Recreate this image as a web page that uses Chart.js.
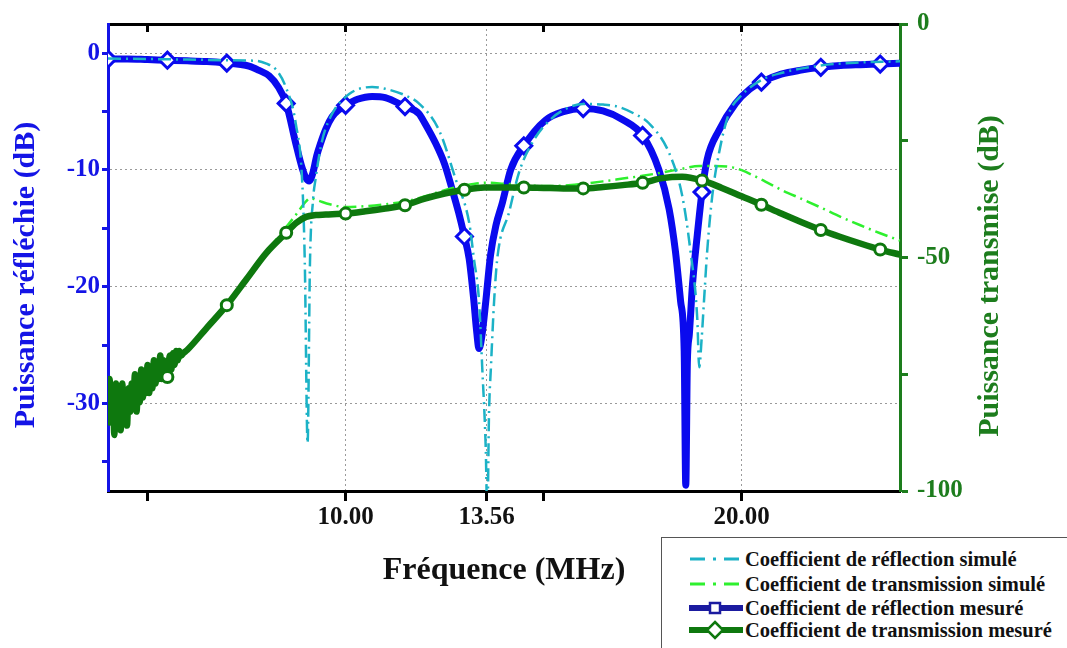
<!DOCTYPE html>
<html>
<head>
<meta charset="utf-8">
<title>Puissance réfléchie et transmise</title>
<script src="https://cdn.jsdelivr.net/npm/chart.js@4.4.1/dist/chart.umd.min.js"></script>
<style>
    html, body { margin: 0; padding: 0; background: #fff; overflow: hidden; }
    #wrap { position: relative; width: 1067px; height: 648px; }
    #legend {
        position: absolute; left: 661px; top: 537px; width: 440px; height: 125px;
        border: 1.5px solid #555; background: #fff;
        font: bold 20.5px "Liberation Serif", "Times New Roman", serif; color: #111;
    }
    #legend .row { position: absolute; left: 27px; height: 24px; display: flex; align-items: center; white-space: nowrap; }
    #legend svg { display: block; margin-right: 2px; }
</style>
</head>
<body>
<div id="wrap">
    <canvas id="chart" width="1067" height="648"></canvas>
    <div id="legend"></div>
</div>
<script>
/**
 * Puissance réfléchie / transmise vs fréquence
 */

// Axis ranges and ticks
const xMin = 4, xMax = 24;
const xTicks = [5, 10, 13.56, 15, 20];
const xLabeled = [10, 13.56, 20];
const topTicks = [5, 10, 15, 20];
const leftMin = -37.5, leftMax = 2.5;
const leftTicks = [0, -5, -10, -15, -20, -25, -30, -35];
const leftLabeled = [0, -10, -20, -30];
const rightMin = -100, rightMax = 0;
const rightTicks = [0, -25, -50, -75, -100];
const rightLabeled = [0, -50, -100];

// Marker positions (MHz)
const reflMarkers = [4, 5.5, 7, 8.5, 10, 11.5, 13, 14.5, 16, 17.5, 19, 20.5, 22, 23.5];
const transMarkers = [5.5, 7, 8.5, 10, 11.5, 13, 14.5, 16, 17.5, 19, 20.5, 22, 23.5];

// Coefficient de réflection simulé (dB, left axis)
const rsFreq = [4.0, 5.0, 6.0, 7.0, 7.73, 8.0, 8.23, 8.49, 8.74, 8.91, 8.97, 9.04, 9.1, 9.18, 9.24, 9.4, 9.62, 10.09, 10.67, 11.0,
    11.5, 11.85, 12.36, 12.78, 13.12, 13.24, 13.37, 13.45, 13.54, 13.58, 13.62, 13.67, 13.75, 13.83, 14.13, 14.38, 14.76, 15.2, 15.6, 16.0,
    16.5, 16.9, 17.3, 17.66, 18.17, 18.5, 18.71, 18.88, 18.93, 18.99, 19.05, 19.13, 19.26, 19.43, 19.68, 20.0, 20.5, 21.0, 22.0, 23.0, 24.0];
const rsDb = [-0.45, -0.5, -0.55, -0.6, -0.65, -0.9, -1.35, -2.9, -6.0, -11.4, -18.0, -33.4, -18.0, -12.5, -10.8, -7.6, -5.45, -3.5, -2.9, -3.05,
    -3.6, -4.3, -6.6, -10.8, -14.5, -17.6, -21.25, -26.9, -34.0, -40.0, -31.1, -26.9, -21.25, -17.6, -13.6, -10.2, -7.4, -5.6, -4.7, -4.35,
    -4.4, -4.6, -5.2, -6.0, -8.55, -12.2, -17.0, -22.7, -26.9, -24.5, -21.25, -17.0, -12.2, -8.55, -5.16, -3.6, -2.3, -1.7, -1.05, -0.8, -0.7];

// Coefficient de transmission simulé (dB, right axis)
const tsFreq = [4.0, 4.5, 5.0, 5.5, 6.0, 6.5, 7.0, 7.5, 8.0, 8.5, 8.75, 9.0, 9.1, 9.3, 9.6, 10.0, 10.5, 11.0, 11.5, 12.0,
    12.5, 13.0, 13.56, 14.0, 14.5, 15.0, 15.5, 16.0, 16.5, 17.0, 17.5, 18.0, 18.5, 18.93, 19.3, 19.77, 20.0, 20.5, 21.0, 21.5,
    22.0, 22.5, 23.0, 23.5, 24.0];
const tsDb = [-80, -79, -77, -74.5, -70, -65, -60, -54.5, -48.8, -43.5, -40.8, -38.0, -37.3, -37.8, -38.6, -39.2, -39.0, -38.6, -38.0, -36.9,
    -35.6, -34.6, -34.0, -34.2, -34.5, -34.7, -34.6, -34.2, -33.7, -33.1, -32.5, -31.8, -31.0, -30.4, -30.4, -30.7, -31.3, -33.3, -35.5, -37.4,
    -39.3, -41.3, -43.1, -44.8, -46.4];

// Coefficient de réflection mesuré (dB, left axis)
const rmFreq = [4.0, 4.5, 5.0, 5.5, 6.0, 6.5, 7.0, 7.3, 7.56, 7.8, 8.07, 8.3, 8.5, 8.74, 8.9, 9.0, 9.08, 9.17, 9.27, 9.37,
    9.5, 9.66, 9.83, 10.0, 10.3, 10.67, 11.0, 11.5, 11.85, 12.0, 12.27, 12.5, 12.69, 12.85, 13.0, 13.12, 13.24, 13.3, 13.37, 13.45,
    13.54, 13.66, 13.8, 13.96, 14.17, 14.5, 15.05, 15.5, 16.0, 16.5, 17.0, 17.5, 17.91, 18.17, 18.33, 18.46, 18.55, 18.59, 18.63, 18.68,
    18.76, 18.88, 19.0, 19.13, 19.43, 19.85, 20.2, 20.5, 21.0, 21.5, 22.0, 22.5, 23.0, 23.5, 24.0];
const rmDb = [-0.5, -0.5, -0.55, -0.6, -0.65, -0.72, -0.85, -0.95, -1.1, -1.45, -1.95, -2.9, -4.3, -7.7, -9.8, -10.7, -10.95, -10.3, -8.8, -7.7,
    -6.5, -5.45, -4.85, -4.46, -3.95, -3.7, -3.8, -4.57, -5.17, -6.0, -7.7, -9.5, -11.66, -13.6, -15.7, -17.6, -21.25, -23.5, -25.3, -24.0,
    -21.25, -17.3, -14.7, -12.8, -9.97, -7.93, -5.73, -5.0, -4.74, -4.95, -5.7, -7.05, -9.97, -13.35, -17.0, -21.25, -25.5, -37.0, -26.5, -24.1,
    -19.8, -15.6, -11.9, -9.1, -6.6, -4.3, -3.1, -2.48, -1.8, -1.45, -1.21, -1.05, -0.98, -0.93, -0.87];

// Coefficient de transmission mesuré (dB, right axis) - noisy below 6 MHz
const tmFreq = [4.00, 4.04, 4.08, 4.12, 4.16, 4.20, 4.24, 4.28, 4.32, 4.36, 4.40, 4.44, 4.48, 4.52, 4.56, 4.60, 4.64, 4.68, 4.72, 4.76,
    4.80, 4.84, 4.88, 4.92, 4.96, 5.00, 5.04, 5.08, 5.12, 5.16, 5.20, 5.24, 5.28, 5.32, 5.36, 5.40, 5.44, 5.50, 5.56, 5.60,
    5.64, 5.68, 5.72, 5.76, 5.80, 5.85, 5.90, 6.0, 6.5, 7.0, 7.5, 8.0, 8.5, 8.75, 9.0, 9.25, 9.5, 10.0, 10.5, 11.0,
    11.5, 12.0, 12.5, 13.0, 13.5, 14.0, 14.5, 15.0, 15.5, 16.0, 16.5, 17.0, 17.5, 18.0, 18.5, 19.0, 19.5, 20.0, 20.5, 21.0,
    21.5, 22.0, 22.5, 23.0, 23.5, 24.0];
const tmDb = [-86, -76, -85, -78, -88, -77, -84, -79, -87, -77, -84, -80, -86, -78, -83, -77, -82, -75, -83, -78,
    -81, -74, -80, -76, -79, -73, -79, -74, -78, -72, -77, -73, -76, -71, -76, -72, -75, -75.6, -71, -74,
    -70.5, -73, -70, -72, -70, -71, -70.5, -69.8, -65.0, -60.2, -54.6, -49.0, -44.7, -42.6, -41.3, -40.9, -40.8, -40.6, -40.1, -39.5,
    -38.8, -37.4, -36.3, -35.5, -35.0, -35.0, -35.0, -35.1, -35.2, -35.2, -34.9, -34.5, -34.0, -33.0, -32.7, -33.5, -35.1, -36.9, -38.7, -40.6,
    -42.4, -44.1, -45.6, -47.0, -48.3, -49.4];

// Colors
const COLORS = {
    reflSim: '#1cb2c6',
    transSim: '#2ef02e',
    reflMes: '#0a0aee',
    transMes: '#0e780e',
    leftAxis: '#1414e6',
    rightAxis: '#1d7d1d',
    grid: '#9a9a9a'
};
const SERIF = '"Liberation Serif", "Times New Roman", serif';
const DASH_DOT = [13, 5, 2, 5];

const has = (list, v) => list.some(a => Math.abs(a - v) < 1e-6);
const toPoints = (xs, ys) => xs.map((x, i) => ({ x: x, y: ys[i] }));
const markerRadius = (list, r) => ctx => (ctx.raw && has(list, ctx.raw.x)) ? r : 0;
const tickFont = { family: SERIF, size: 25, weight: 'bold' };

/**
 * Vertical axis titles reading bottom-to-top on both sides
 */
const axisTitles = {
    id: 'axisTitles',
    afterDraw(chart) {
        const ctx = chart.ctx;
        const drawVertical = (text, x, y, color) => {
            ctx.save();
            ctx.translate(x, y);
            ctx.rotate(-Math.PI / 2);
            ctx.font = 'bold 30px ' + SERIF;
            ctx.fillStyle = color;
            ctx.textAlign = 'center';
            ctx.textBaseline = 'alphabetic';
            ctx.fillText(text, 0, 0);
            ctx.restore();
        };
        drawVertical('Puissance réfléchie (dB)', 34, 275, COLORS.leftAxis);
        drawVertical('Puissance transmise (dB)', 998, 276, COLORS.rightAxis);
    }
};

const datasets = [
    {
        label: 'Coefficient de transmission mesuré',
        data: toPoints(tmFreq, tmDb),
        yAxisID: 'y2',
        order: 0,
        borderColor: COLORS.transMes,
        borderWidth: 6.5,
        pointStyle: 'circle',
        pointRadius: markerRadius(transMarkers, 5.5),
        pointBorderWidth: 3,
        pointBorderColor: COLORS.transMes,
        pointBackgroundColor: '#fff'
    },
    {
        label: 'Coefficient de réflection simulé',
        data: toPoints(rsFreq, rsDb),
        yAxisID: 'y',
        order: 1,
        borderColor: COLORS.reflSim,
        borderWidth: 2.5,
        borderDash: DASH_DOT,
        pointRadius: 0
    },
    {
        label: 'Coefficient de transmission simulé',
        data: toPoints(tsFreq, tsDb),
        yAxisID: 'y2',
        order: 2,
        borderColor: COLORS.transSim,
        borderWidth: 2.5,
        borderDash: DASH_DOT,
        pointRadius: 0
    },
    {
        label: 'Coefficient de réflection mesuré',
        data: toPoints(rmFreq, rmDb),
        yAxisID: 'y',
        order: 3,
        borderColor: COLORS.reflMes,
        borderWidth: 7,
        pointStyle: 'rectRot',
        pointRadius: markerRadius(reflMarkers, 8),
        pointBorderWidth: 3,
        pointBorderColor: COLORS.reflMes,
        pointBackgroundColor: '#fff'
    }
];

new Chart(document.getElementById('chart'), {
    type: 'line',
    data: { datasets: datasets },
    options: {
        responsive: false,
        animation: false,
        events: [],
        layout: { padding: { top: 19, left: 0, right: 0, bottom: 0 } },
        elements: { line: { cubicInterpolationMode: 'monotone' } },
        plugins: { legend: { display: false }, tooltip: { enabled: false } },
        scales: {
            x: {
                type: 'linear', position: 'bottom', min: xMin, max: xMax,
                afterBuildTicks: s => { s.ticks = xTicks.map(v => ({ value: v })); },
                afterFit: s => { s.height = 157; },
                border: { color: '#000', width: 3, dash: [2, 3] },
                grid: {
                    color: c => (c.tick && has(xLabeled, c.tick.value)) ? COLORS.grid : 'rgba(0,0,0,0)',
                    lineWidth: 1, tickColor: '#000', tickWidth: 3, tickLength: 10
                },
                ticks: {
                    autoSkip: false, maxRotation: 0, padding: 2, color: '#111', font: tickFont,
                    callback: v => has(xLabeled, v) ? v.toFixed(2) : ''
                },
                title: {
                    display: true, text: 'Fréquence (MHz)', color: '#111',
                    font: { family: SERIF, size: 32, weight: 'bold' },
                    padding: { top: 0, bottom: 58 }
                }
            },
            x2: {
                type: 'linear', position: 'top', min: xMin, max: xMax,
                afterBuildTicks: s => { s.ticks = topTicks.map(v => ({ value: v })); },
                afterFit: s => { s.height = 0; },
                border: { color: '#000', width: 3 },
                grid: { drawOnChartArea: false, tickColor: '#000', tickWidth: 3, tickLength: -8 },
                ticks: { display: false }
            },
            y: {
                type: 'linear', position: 'left', min: leftMin, max: leftMax,
                afterBuildTicks: s => { s.ticks = leftTicks.map(v => ({ value: v })); },
                afterFit: s => { s.width = 108; },
                border: { color: COLORS.leftAxis, width: 3, dash: [2, 3] },
                grid: {
                    color: c => (c.tick && has(leftLabeled, c.tick.value)) ? COLORS.grid : 'rgba(0,0,0,0)',
                    lineWidth: 1, tickColor: COLORS.leftAxis, tickWidth: 3, tickLength: 6
                },
                ticks: {
                    padding: 2, color: COLORS.leftAxis, font: tickFont,
                    callback: v => has(leftLabeled, v) ? String(v) : ''
                }
            },
            y2: {
                type: 'linear', position: 'right', min: rightMin, max: rightMax,
                afterBuildTicks: s => { s.ticks = rightTicks.map(v => ({ value: v })); },
                afterFit: s => { s.width = 167; },
                border: { color: COLORS.rightAxis, width: 3 },
                grid: { drawOnChartArea: false, tickColor: COLORS.rightAxis, tickWidth: 3, tickLength: 8 },
                ticks: {
                    padding: 9, color: COLORS.rightAxis, font: tickFont,
                    callback: v => has(rightLabeled, v) ? String(v) : ''
                }
            }
        }
    },
    plugins: [axisTitles]
});

/**
 * Legend (drawn as HTML, same order as the original figure)
 */
const legendItems = [
    { label: 'Coefficient de réflection simulé', color: COLORS.reflSim, kind: 'dashdot' },
    { label: 'Coefficient de transmission simulé', color: COLORS.transSim, kind: 'dashdot' },
    { label: 'Coefficient de réflection mesuré', color: '#1b1ba0', kind: 'square' },
    { label: 'Coefficient de transmission mesuré', color: COLORS.transMes, kind: 'diamond' }
];

function legendSample(item) {
    if (item.kind === 'dashdot') {
        return `<svg width="54" height="20"><line x1="1" y1="10" x2="53" y2="10" stroke="${item.color}"
            stroke-width="3" stroke-dasharray="15 8 3 8 15"/></svg>`;
    }
    const marker = item.kind === 'square'
        ? `<rect x="21" y="5" width="10" height="10" fill="#fff" stroke="${item.color}" stroke-width="2.5"/>`
        : `<polygon points="26,2 34,10 26,18 18,10" fill="#fff" stroke="${item.color}" stroke-width="2.5"/>`;
    return `<svg width="54" height="20"><line x1="1" y1="10" x2="53" y2="10" stroke="${item.color}"
        stroke-width="6" stroke-linecap="round"/>${marker}</svg>`;
}

const rowTops = [9, 34, 58, 80];
document.getElementById('legend').innerHTML = legendItems.map((item, i) =>
    `<div class="row" style="top:${rowTops[i]}px">${legendSample(item)}<span>${item.label}</span></div>`
).join('');
</script>
</body>
</html>
